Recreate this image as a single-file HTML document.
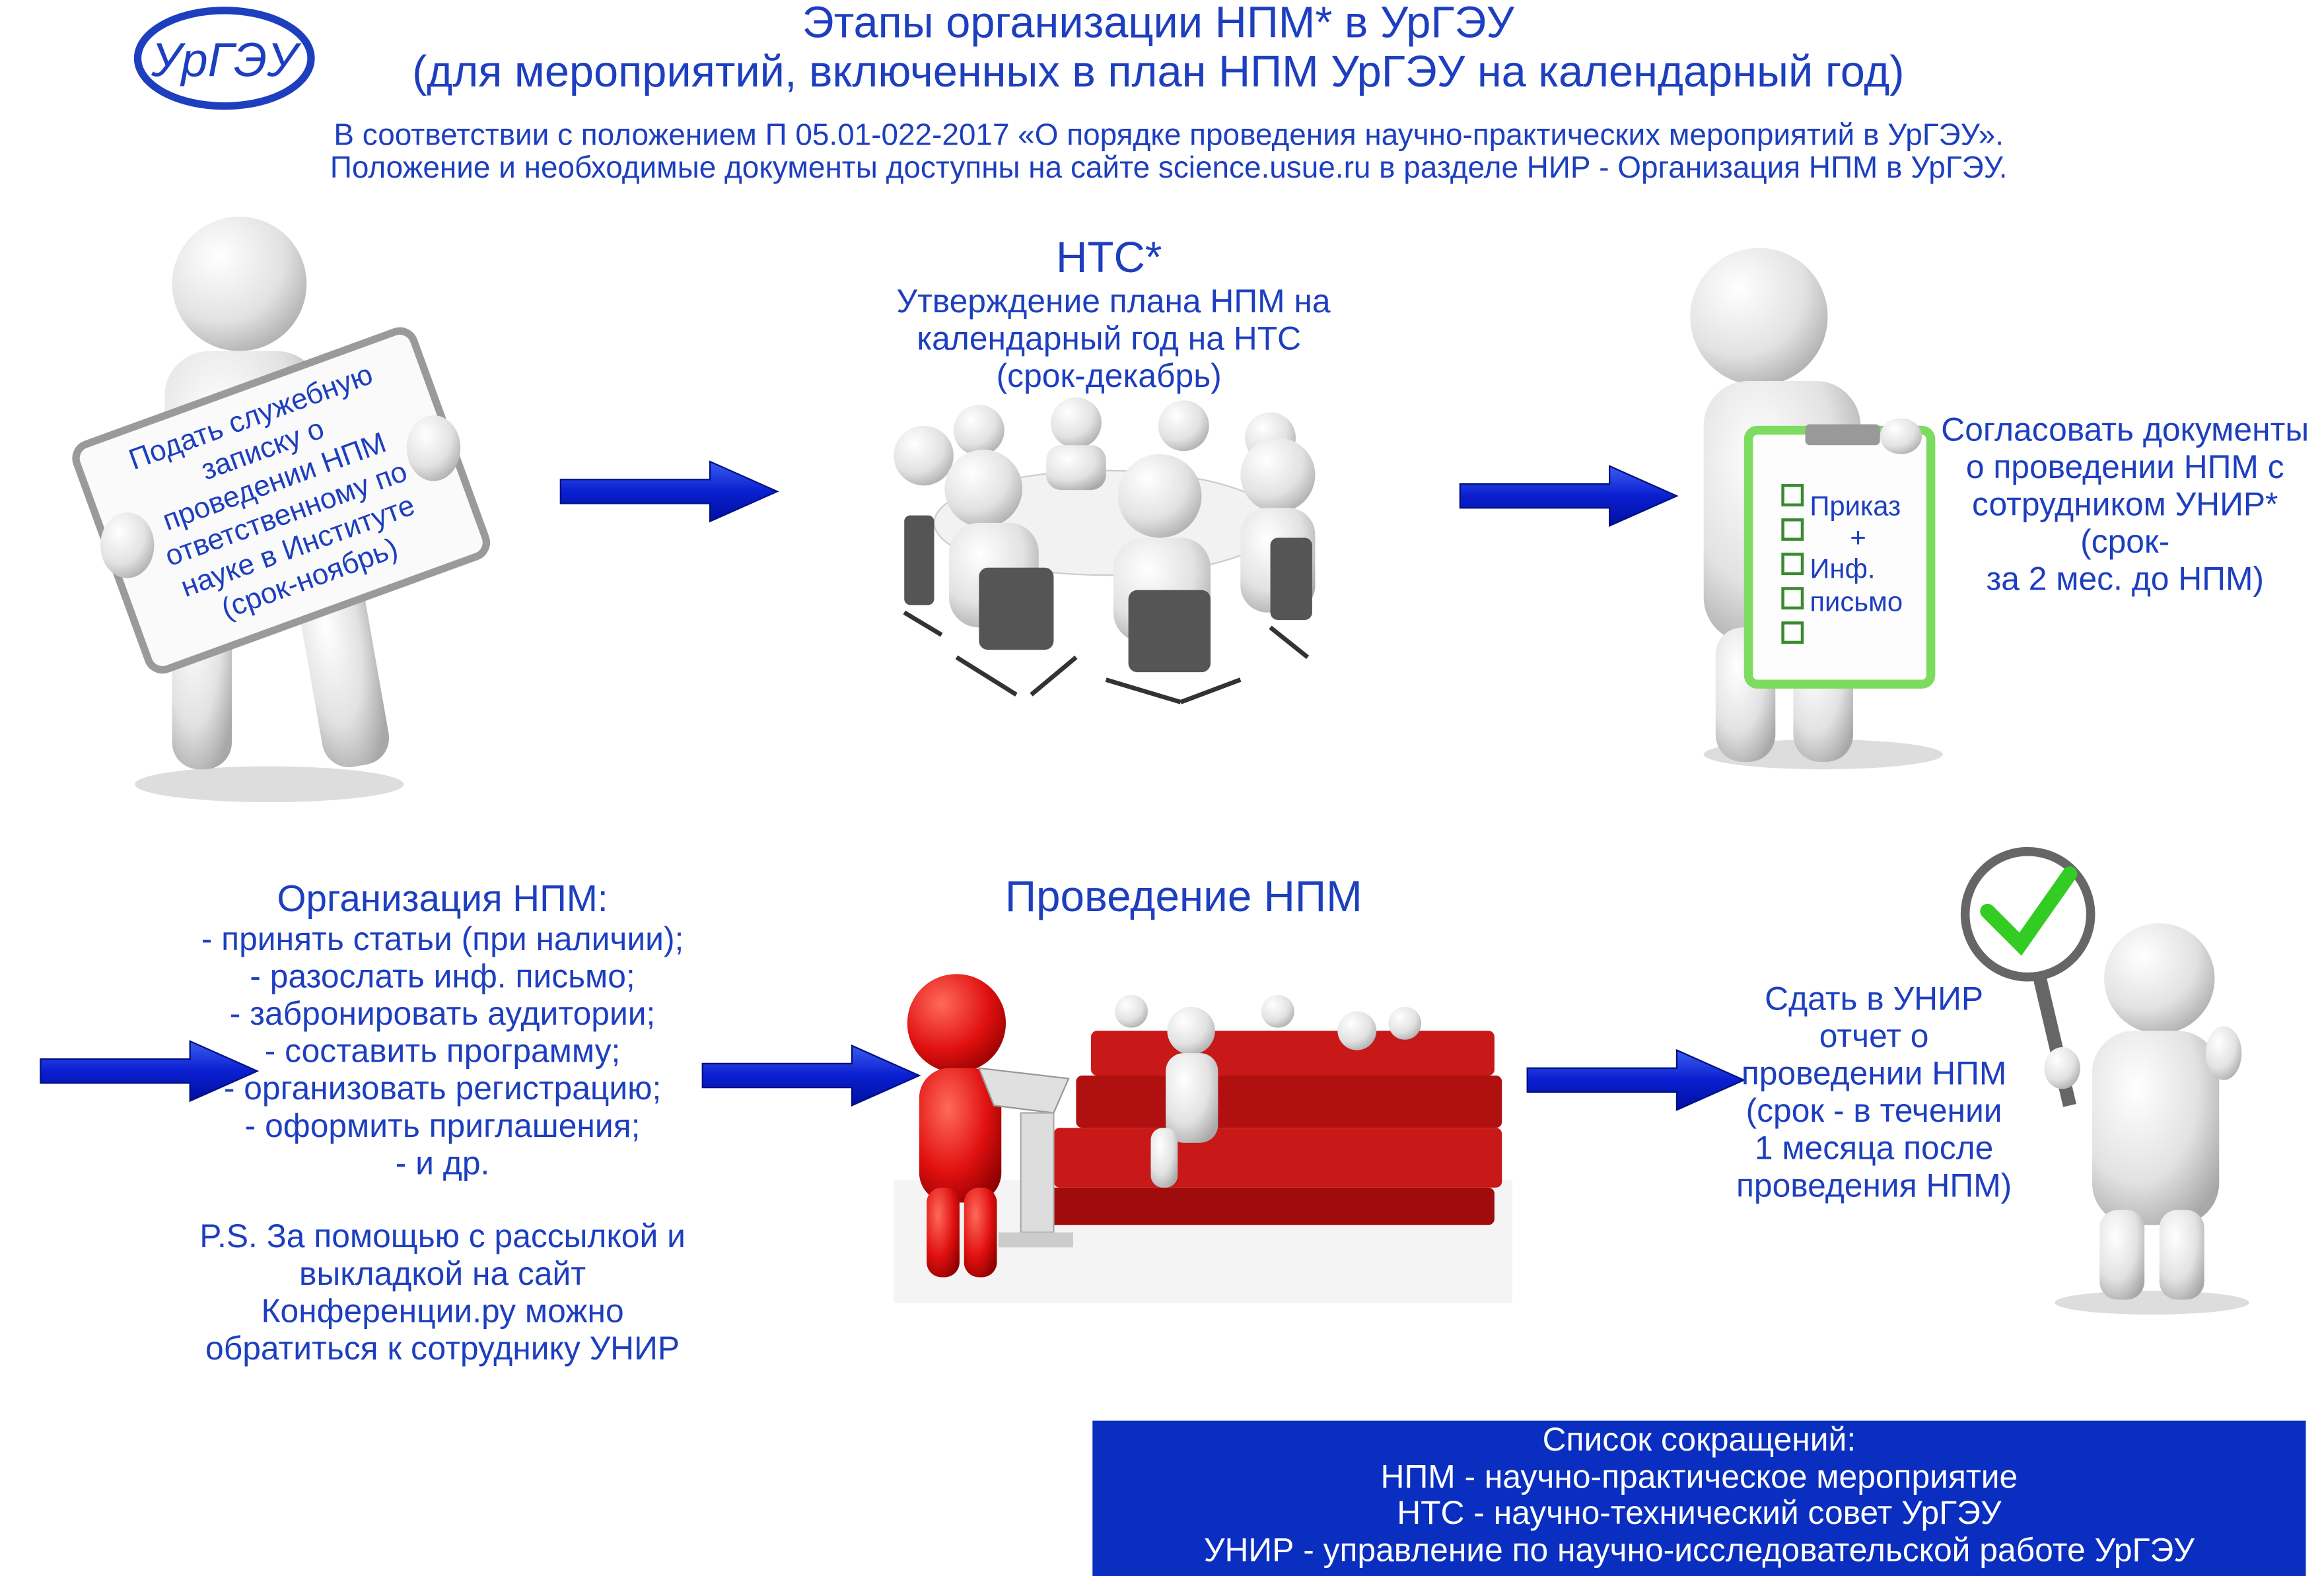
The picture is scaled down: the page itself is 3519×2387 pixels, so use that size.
<!DOCTYPE html>
<html><head><meta charset="utf-8"><style>
html,body{margin:0;padding:0;background:#fff;}
svg{display:block;}
text{font-family:"Liberation Sans",sans-serif;}
</style></head><body>
<svg width="3519" height="2387" viewBox="0 0 1555 1055" xmlns="http://www.w3.org/2000/svg">
<defs>
<linearGradient id="arr" x1="0" y1="0" x2="0" y2="1">
<stop offset="0" stop-color="#3a5cf0"/><stop offset="0.5" stop-color="#0a1fd0"/><stop offset="1" stop-color="#0010a0"/></linearGradient>
<radialGradient id="skin" cx="0.35" cy="0.3" r="0.8"><stop offset="0" stop-color="#ffffff"/><stop offset="0.6" stop-color="#e2e2e2"/><stop offset="1" stop-color="#a8a8a8"/></radialGradient>
<radialGradient id="red" cx="0.35" cy="0.3" r="0.8"><stop offset="0" stop-color="#ff6a5a"/><stop offset="0.6" stop-color="#e01010"/><stop offset="1" stop-color="#900000"/></radialGradient>
<g id="arrow"><polygon points="0,12 100,12 100,0 145,20 100,40 100,28 0,28" fill="url(#arr)" stroke="#001080" stroke-width="1"/></g>
</defs>

<!-- logo -->
<ellipse cx="150" cy="39" rx="58" ry="32" fill="#fff" stroke="#1d3fbf" stroke-width="5"/>
<text x="150" y="51" font-size="32" fill="#1d3fbf" text-anchor="middle" font-style="italic" font-family="Liberation Serif">УрГЭУ</text>

<!-- titles -->
<g fill="#1d3fbf" text-anchor="middle">
<text x="775" y="25" font-size="29.5">Этапы организации НПМ* в УрГЭУ</text>
<text x="775" y="58" font-size="29.5">(для мероприятий, включенных в план НПМ УрГЭУ на календарный год)</text>
<text x="782" y="97" font-size="20.3">В соответствии с положением П 05.01-022-2017 «О порядке проведения научно-практических мероприятий в УрГЭУ».</text>
<text x="782" y="119" font-size="20.3">Положение и необходимые документы доступны на сайте  science.usue.ru в разделе НИР - Организация НПМ в УрГЭУ.</text>
</g>

<!-- figure 1 with sign -->
<g>
<ellipse cx="180" cy="525" rx="90" ry="12" fill="#ddd"/>
<circle cx="160" cy="190" r="45" fill="url(#skin)"/>
<rect x="110" y="235" width="105" height="150" rx="30" fill="url(#skin)"/>
<rect x="115" y="380" width="40" height="135" rx="18" fill="url(#skin)"/>
<rect x="195" y="380" width="45" height="135" rx="18" fill="url(#skin)" transform="rotate(-10 215 380)"/>
<g transform="rotate(-20 188 335)">
<rect x="68" y="255" width="240" height="160" rx="10" fill="#fafafa" stroke="#9a9a9a" stroke-width="5"/>
<g fill="#1d3fbf" font-size="19.5" text-anchor="middle">
<text x="188" y="282">Подать служебную</text>
<text x="188" y="305">записку о</text>
<text x="188" y="328">проведении НПМ</text>
<text x="188" y="351">ответственному по</text>
<text x="188" y="374">науке в Институте</text>
<text x="188" y="397">(срок-ноябрь)</text>
</g></g>
<ellipse cx="85" cy="365" rx="18" ry="22" fill="url(#skin)"/>
<ellipse cx="290" cy="300" rx="18" ry="22" fill="url(#skin)"/>
</g>

<use href="#arrow" x="375" y="309"/>

<!-- НТС -->
<g fill="#1d3fbf" text-anchor="middle">
<text x="742" y="182" font-size="29">НТС*</text>
<text x="745" y="209" font-size="22">Утверждение плана НПМ на</text>
<text x="742" y="234" font-size="22">календарный год на НТС</text>
<text x="742" y="259" font-size="22">(срок-декабрь)</text>
</g>
<!-- meeting -->
<g>
<ellipse cx="740" cy="350" rx="115" ry="35" fill="#f2f2f2" stroke="#ccc"/>
<g fill="url(#skin)">
<circle cx="655" cy="288" r="17"/><circle cx="720" cy="283" r="17"/><circle cx="792" cy="285" r="17"/><circle cx="850" cy="293" r="17"/>
<circle cx="618" cy="305" r="20"/><circle cx="658" cy="327" r="26"/><circle cx="776" cy="332" r="28"/><circle cx="855" cy="318" r="25"/>
<rect x="635" y="350" width="60" height="70" rx="20"/><rect x="745" y="360" width="65" height="70" rx="20"/><rect x="830" y="340" width="50" height="70" rx="18"/>
<rect x="700" y="298" width="40" height="30" rx="10"/>
</g>
<g fill="#555">
<rect x="605" y="345" width="20" height="60" rx="4"/><rect x="655" y="380" width="50" height="55" rx="6"/><rect x="755" y="395" width="55" height="55" rx="6"/><rect x="850" y="360" width="28" height="55" rx="5"/>
</g>
<g stroke="#333" stroke-width="3">
<line x1="640" y1="440" x2="680" y2="465"/><line x1="720" y1="440" x2="690" y2="465"/><line x1="740" y1="455" x2="790" y2="470"/><line x1="830" y1="455" x2="790" y2="470"/><line x1="605" y1="410" x2="630" y2="425"/><line x1="850" y1="420" x2="875" y2="440"/>
</g>
</g>

<use href="#arrow" x="977" y="312"/>

<!-- figure 3 clipboard -->
<g>
<ellipse cx="1220" cy="505" rx="80" ry="10" fill="#ddd"/>
<circle cx="1177" cy="212" r="46" fill="url(#skin)"/>
<rect x="1140" y="255" width="105" height="175" rx="30" fill="url(#skin)"/>
<rect x="1148" y="420" width="40" height="90" rx="18" fill="url(#skin)"/>
<rect x="1200" y="420" width="40" height="90" rx="18" fill="url(#skin)"/>
<rect x="1170" y="288" width="122" height="170" rx="6" fill="#fdfdfd" stroke="#7ddc60" stroke-width="6"/>
<rect x="1208" y="284" width="50" height="14" rx="3" fill="#999"/>
<g fill="none" stroke="#3a8a30" stroke-width="2">
<rect x="1193" y="325" width="13" height="13"/><rect x="1193" y="348" width="13" height="13"/><rect x="1193" y="371" width="13" height="13"/><rect x="1193" y="394" width="13" height="13"/><rect x="1193" y="417" width="13" height="13"/>
</g>
<g fill="#1d3fbf" font-size="18.5">
<text x="1211" y="345">Приказ</text>
<text x="1238" y="366">+</text>
<text x="1211" y="387">Инф.</text>
<text x="1211" y="409">письмо</text>
</g>
<ellipse cx="1272" cy="292" rx="14" ry="12" fill="url(#skin)"/>
</g>
<g fill="#1d3fbf" text-anchor="middle" font-size="22">
<text x="1422" y="295">Согласовать документы</text>
<text x="1422" y="320">о проведении НПМ с</text>
<text x="1422" y="345">сотрудником УНИР*</text>
<text x="1422" y="370">(срок-</text>
<text x="1422" y="395">за 2 мес. до НПМ)</text>
</g>

<!-- bottom left -->
<use href="#arrow" x="27" y="697"/>
<g fill="#1d3fbf" text-anchor="middle" font-size="22">
<text x="296" y="610" font-size="25">Организация НПМ:</text>
<text x="296" y="636">- принять статьи (при наличии);</text>
<text x="296" y="661">- разослать инф. письмо;</text>
<text x="296" y="686">- забронировать аудитории;</text>
<text x="296" y="711">- составить программу;</text>
<text x="296" y="736">- организовать регистрацию;</text>
<text x="296" y="761">- оформить приглашения;</text>
<text x="296" y="786">- и др.</text>
<text x="296" y="835">P.S. За помощью с рассылкой и</text>
<text x="296" y="860">выкладкой на сайт</text>
<text x="296" y="885">Конференции.ру можно</text>
<text x="296" y="910">обратиться к сотруднику УНИР</text>
</g>

<use href="#arrow" x="470" y="700"/>

<text x="792" y="610" font-size="29" fill="#1d3fbf" text-anchor="middle">Проведение НПМ</text>
<!-- conference scene -->
<g>
<rect x="598" y="790" width="414" height="82" fill="#f4f4f4"/>
<g fill="#c81818">
<rect x="730" y="690" width="270" height="30" rx="4"/>
<rect x="720" y="720" width="285" height="35" rx="4" fill="#b01010"/>
<rect x="705" y="755" width="300" height="40" rx="4"/>
<rect x="700" y="795" width="300" height="25" rx="4" fill="#a00c0c"/>
</g>
<g fill="url(#skin)">
<circle cx="757" cy="677" r="11"/><circle cx="855" cy="677" r="11"/><circle cx="908" cy="690" r="13"/><circle cx="940" cy="685" r="11"/>
<circle cx="797" cy="690" r="16"/><rect x="780" y="705" width="35" height="60" rx="12"/><rect x="770" y="755" width="18" height="40" rx="8"/>
</g>
<circle cx="640" cy="685" r="33" fill="url(#red)"/>
<rect x="615" y="715" width="55" height="90" rx="20" fill="url(#red)"/>
<rect x="620" y="795" width="22" height="60" rx="10" fill="url(#red)"/>
<rect x="645" y="795" width="22" height="60" rx="10" fill="url(#red)"/>
<polygon points="655,715 715,722 705,745 665,740" fill="#e0e0e0" stroke="#999"/>
<rect x="683" y="745" width="22" height="80" fill="#ddd" stroke="#aaa"/>
<rect x="668" y="825" width="50" height="10" fill="#ccc"/>
</g>

<use href="#arrow" x="1022" y="703"/>
<g fill="#1d3fbf" text-anchor="middle" font-size="22">
<text x="1254" y="676">Сдать в УНИР</text>
<text x="1254" y="701">отчет о</text>
<text x="1254" y="726">проведении НПМ</text>
<text x="1254" y="751">(срок - в течении</text>
<text x="1254" y="776">1 месяца после</text>
<text x="1254" y="801">проведения НПМ)</text>
</g>
<!-- check figure -->
<g>
<ellipse cx="1440" cy="872" rx="65" ry="8" fill="#ddd"/>
<circle cx="1357" cy="612" r="42" fill="#fff" stroke="#666" stroke-width="6"/>
<polyline points="1330,610 1352,632 1385,585" fill="none" stroke="#33cc22" stroke-width="10" stroke-linecap="round"/>
<line x1="1365" y1="655" x2="1385" y2="740" stroke="#666" stroke-width="9"/>
<circle cx="1445" cy="655" r="37" fill="url(#skin)"/>
<rect x="1400" y="690" width="85" height="130" rx="28" fill="url(#skin)"/>
<rect x="1405" y="810" width="30" height="60" rx="12" fill="url(#skin)"/>
<rect x="1445" y="810" width="30" height="60" rx="12" fill="url(#skin)"/>
<ellipse cx="1488" cy="705" rx="12" ry="18" fill="url(#skin)"/>
<ellipse cx="1380" cy="715" rx="12" ry="14" fill="url(#skin)"/>
</g>

<!-- legend -->
<rect x="731" y="951" width="812" height="112" fill="#0a2ec0"/>
<g fill="#fff" text-anchor="middle" font-size="22">
<text x="1137" y="971">Список сокращений:</text>
<text x="1137" y="996">НПМ - научно-практическое мероприятие</text>
<text x="1137" y="1020">НТС - научно-технический совет УрГЭУ</text>
<text x="1137" y="1045">УНИР - управление по научно-исследовательской работе УрГЭУ</text>
</g>
</svg>
</body></html>
